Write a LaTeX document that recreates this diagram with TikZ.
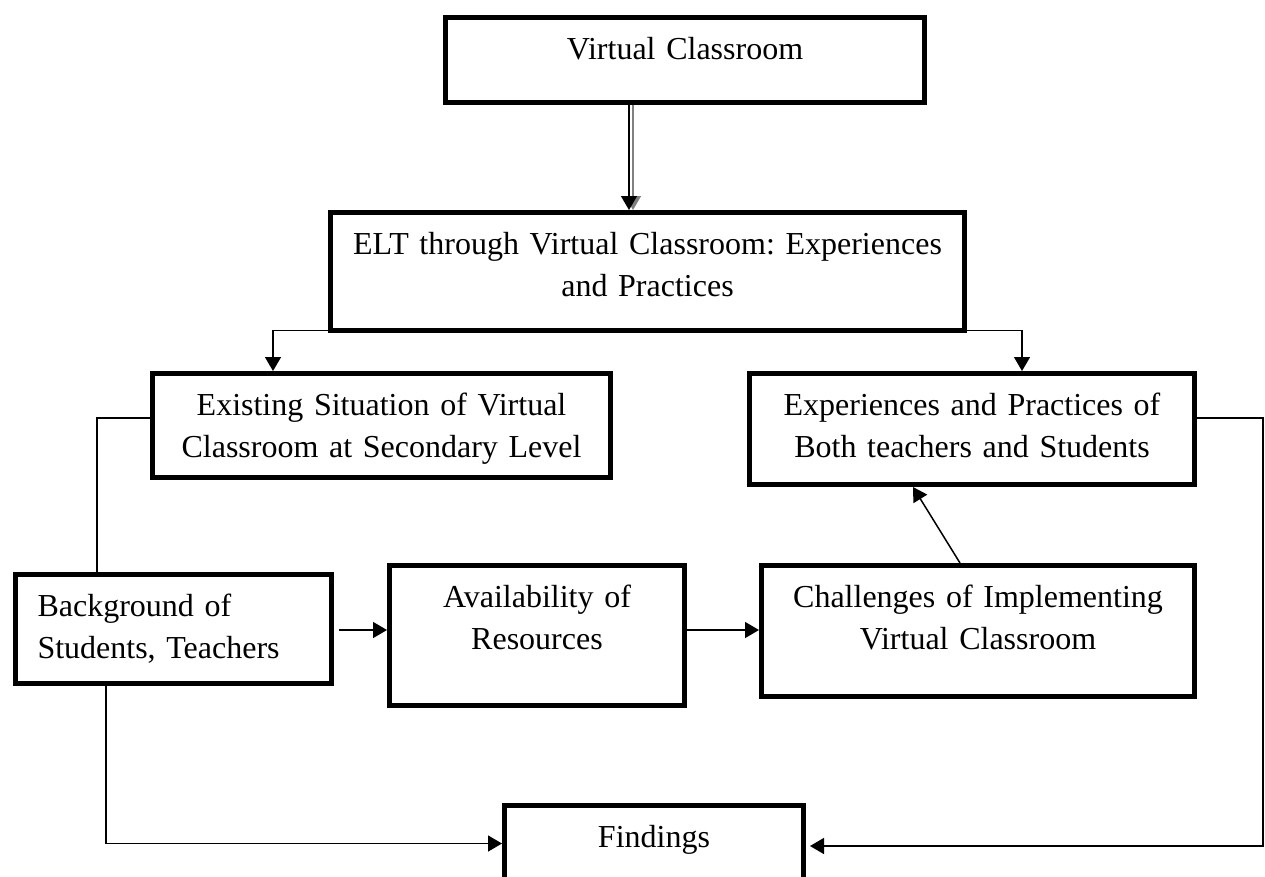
\documentclass[tikz,border=0pt]{standalone}
\usepackage{fontspec}
\setmainfont{Liberation Serif}
\usetikzlibrary{positioning, arrows.meta}
\frenchspacing

\begin{document}
\begin{tikzpicture}[x=1pt, y=-1pt,
    box/.style={draw, line width=5pt, anchor=north west, inner sep=0pt, align=center,
        font=\fontsize{32}{42}\selectfont, text height=42pt},
    link/.style={line width=1.5pt},
    arr/.style={link, -{Triangle[length=14pt,width=16pt]}}]
    \useasboundingbox (0,0) rectangle (1265,876);

    \node[box, text width=479pt, text depth=43pt] (vc) at (443,15) {Virtual Classroom};
    \node[box, text width=634pt, text depth=76pt] (elt) at (328,210) {ELT through Virtual Classroom: Experiences\\and Practices};
    \node[box, text width=458pt, text depth=62pt] (exist) at (150,371) {Existing Situation of Virtual\\Classroom at Secondary Level};
    \node[box, text width=445pt, text depth=69pt] (exper) at (747,371) {Experiences and Practices of\\Both teachers and Students};
    \node[box, text width=272pt, text depth=67pt, inner xsep=22pt, align=left] (bg) at (13,572) {Background of\\Students, Teachers};
    \node[box, text width=295pt, text depth=98pt] (avail) at (387,563) {Availability of\\Resources};
    \node[box, text width=433pt, text depth=89pt] (chal) at (759,563) {Challenges of Implementing\\Virtual Classroom};
    \node[box, text width=299pt, text depth=34pt] (find) at (502,803) {Findings};

    \coordinate (vcb) at (629,0);
    \coordinate (vcg) at (633,0);
    \coordinate (existin) at (273,0);
    \coordinate (experin) at (1022,0);
    \coordinate (existout) at (0,418);
    \coordinate (leftx) at (97,0);
    \coordinate (bgdown) at (106,0);
    \coordinate (bgout) at (339,630);
    \coordinate (midy) at (0,630);
    \coordinate (chalout) at (960,0);
    \coordinate (experup) at (913,0);
    \coordinate (experout) at (0,418);
    \coordinate (rightc) at (1263,846);
    \coordinate (findin) at (810,846);

    \draw[arr, gray] (vcg |- vc.south) -- (vcg |- elt.north);
    \draw[arr] (vcb |- vc.south) -- (vcb |- elt.north);
    \draw[arr] ([yshift=2.5pt]elt.south west) -| (existin |- exist.north);
    \draw[arr] ([yshift=2.5pt]elt.south east) -| (experin |- exper.north);
    \draw[link] (exist.west |- existout) -| (leftx |- bg.north);
    \draw[arr] (bgdown |- bg.south) |- (find.west);
    \draw[arr] (bgout) -- (avail.west |- bgout);
    \draw[arr] (avail.east |- midy) -- (chal.west |- midy);
    \draw[arr] (chal.north -| chalout) -- (exper.south -| experup);
    \draw[arr] (exper.east |- experout) -| (rightc) -- (findin);
\end{tikzpicture}
\end{document}
